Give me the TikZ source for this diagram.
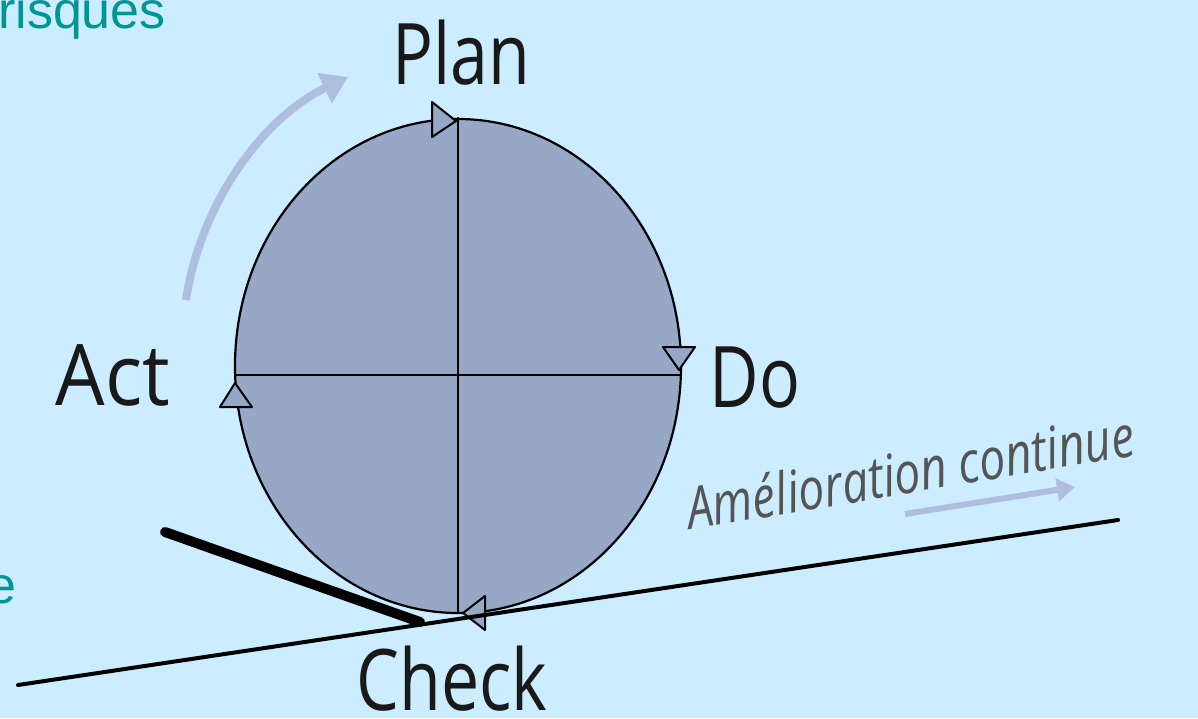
\documentclass[tikz,border=0pt]{standalone}
\usepackage{fontspec}
\setmainfont{Open Sans}
\newfontfamily\arialfont{Liberation Sans}
\usepackage{tkz-euclide}
\usetikzlibrary{arrows.meta}
\definecolor{BackClr}{RGB}{204,236,255}
\definecolor{WheelClr}{RGB}{150,168,198}
\definecolor{TealClr}{RGB}{0,150,150}
\definecolor{ArrowClr}{RGB}{175,190,222}
\definecolor{InkClr}{RGB}{25,25,25}
\definecolor{NoteClr}{RGB}{85,85,85}

\begin{document}
\begin{tikzpicture}[x=1pt,y=-1pt,
  phase/.style={text=InkClr,font=\fontsize{85}{90}\selectfont,xscale=0.8,inner sep=0pt},
  tipmark/.style={fill=WheelClr,draw=black,line width=2pt,line join=round},
  teal/.style={text=TealClr,font=\arialfont\fontsize{52}{56}\selectfont,inner sep=0pt}]
\fill[BackClr] (0,0) rectangle (1198,718);
\useasboundingbox (0,0) rectangle (1198,718);

\tkzDefPoint(458,366){O}
\tkzDefPoint(458,118){N}
\tkzDefPoint(458,613){S}
\tkzDefPoint(235,375){W}
\tkzDefPoint(681,375){E}
\tkzDefPoint(18,685){G}
\tkzDefPoint(1118,520){H}
\tkzDefPoint(165,532){K}
\tkzDefPoint(420,622){L}

% wheel
\draw[fill=WheelClr,line width=2.2pt] (O) ellipse [x radius=223, y radius=247];
\tkzDrawSegments[line width=2.2pt,color=black](N,S W,E)

% direction marks
\filldraw[tipmark] (432,102) -- (432,137) -- (456,121) -- cycle;
\filldraw[tipmark] (663,347) -- (695,347) -- (679,370) -- cycle;
\filldraw[tipmark] (220,407) -- (252,407) -- (235,383) -- cycle;
\filldraw[tipmark] (485,596) -- (485,630) -- (463,613) -- cycle;

% slope and wedge
\tkzDrawSegments[line width=4pt,color=black](G,H)
\tkzDrawSegments[line width=10pt,color=black](K,L)

% arrows
\coordinate (a1) at (186,300);
\coordinate (a2) at (348,77);
\draw[ArrowClr,line width=8pt,-{Triangle[length=26pt,width=32pt]}] (a1) .. controls (200,205) and (262,118) .. (a2);
\coordinate (b1) at (905,514);
\coordinate (b2) at (1075,487);
\draw[ArrowClr,line width=6pt,-{Triangle[length=18pt,width=22pt]}] (b1) -- (b2);

% labels
\node[phase,anchor=base] (plan) at (461,84) {Plan};
\node[phase,anchor=base,xscale=1.15] (act) at (113,405) {Act};
\node[phase,anchor=base] (do) at (755,407) {Do};
\node[phase,anchor=base] (check) at (452,710) {Check};
\node[rotate=9.5,anchor=base west,inner sep=0pt,text=NoteClr,xscale=0.8,
  font=\itshape\fontsize{58}{62}\selectfont] (amel) at (690,530) {Amélioration continue};
\node[teal,anchor=base west] (risk) at (-2,28) {risques};
\node[teal,anchor=base east] (tail) at (17,603) {e};
\end{tikzpicture}
\end{document}
